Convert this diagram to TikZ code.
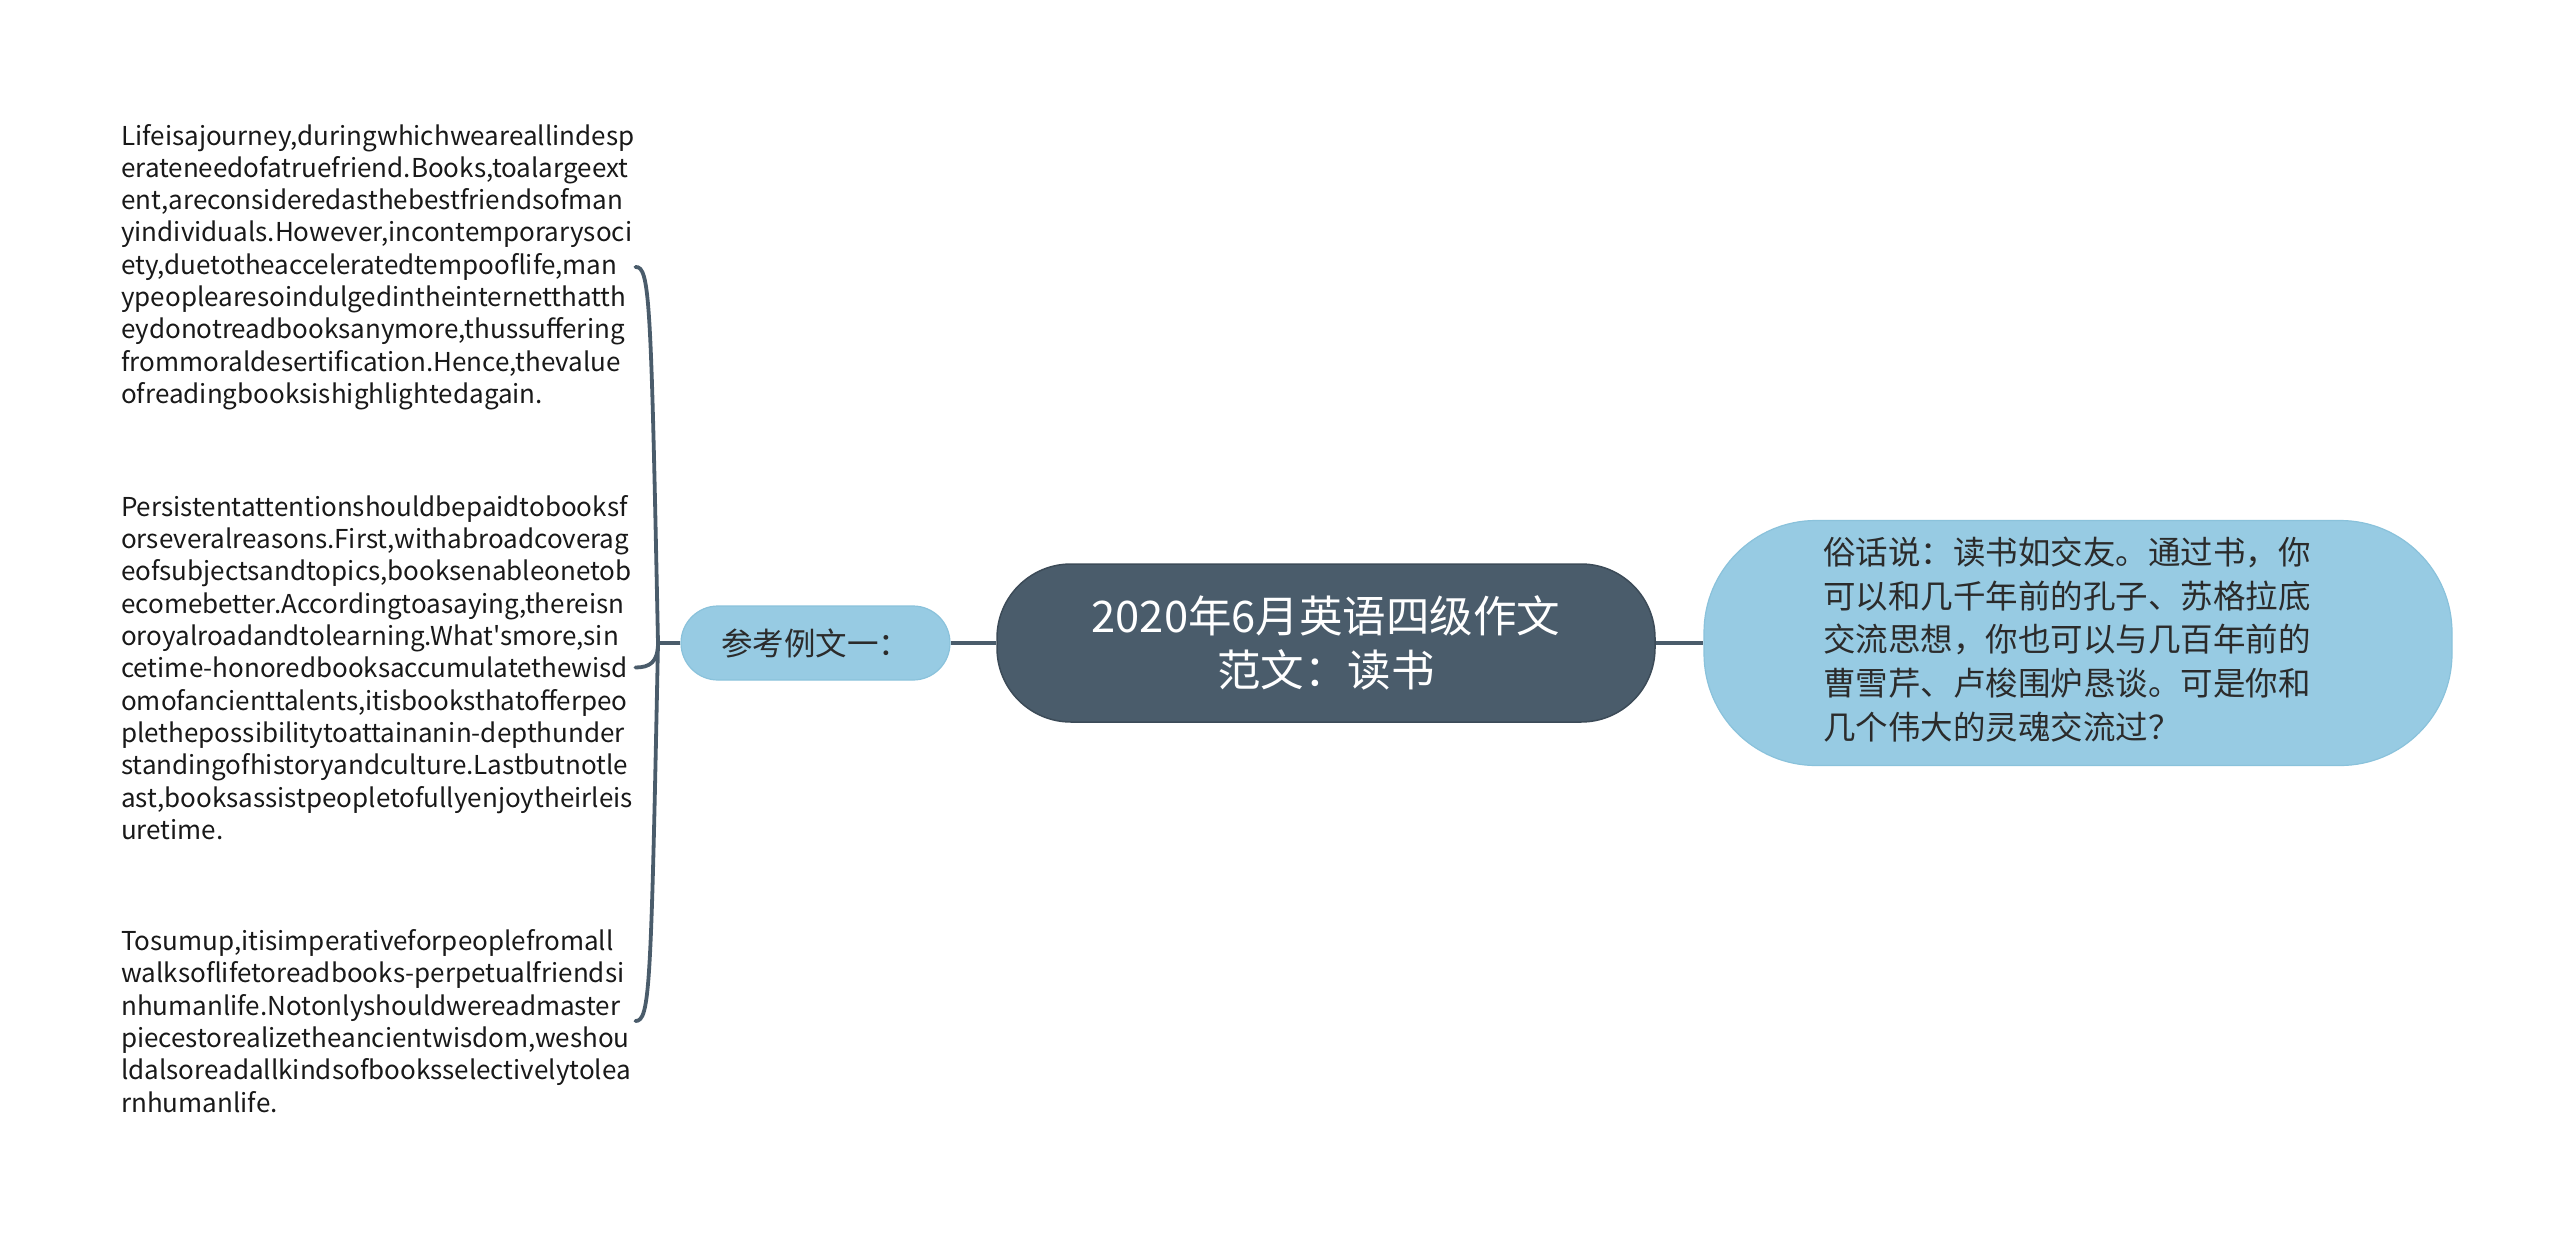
\documentclass[tikz,border=0pt]{standalone}
\usepackage{fontspec}
\newfontfamily\cjk{Noto Sans CJK SC}
\hyphenpenalty=10000
\exhyphenpenalty=10000
\definecolor{slate}{HTML}{4A5C6B}
\definecolor{slateborder}{HTML}{3C4B58}
\definecolor{skyfill}{HTML}{97CBE3}
\definecolor{skyborder}{HTML}{8AC2DB}
\definecolor{darktext}{HTML}{2B2B2B}
\begin{document}
\begin{tikzpicture}[x=1pt,y=-1pt,
  para/.style={anchor=west, inner sep=0pt, text width=514pt, align=left,
    font=\cjk\fontsize{26}{32.3}\selectfont, text=black!90},
  rootbox/.style={draw=slateborder, line width=1.5pt, fill=slate, rounded corners=74pt,
    minimum width=658pt, minimum height=158pt, inner sep=0pt, align=center,
    font=\cjk\fontsize{43.5}{54}\selectfont, text=white},
  subbox/.style={draw=skyborder, line width=1.2pt, fill=skyfill, inner sep=0pt,
    text=darktext},
  link/.style={draw=slate, line width=3.8pt}
]
\useasboundingbox (0,0) rectangle (2560,1237);

\node[para] (t1) at (121,267) {Lifeisajourney,duringwhichweareallindesp\\erateneedofatruefriend.Books,toalargeext\\ent,areconsideredasthebestfriendsofman\\yindividuals.However,incontemporarysoci\\ety,duetotheacceleratedtempooflife,man\\ypeoplearesoindulgedintheinternetthatth\\eydonotreadbooksanymore,thussuffering\\frommoraldesertification.Hence,thevalue\\ofreadingbooksishighlightedagain.};

\node[para] (t2) at (121,667.5) {Persistentattentionshouldbepaidtobooksf\\orseveralreasons.First,withabroadcoverag\\eofsubjectsandtopics,booksenableonetob\\ecomebetter.Accordingtoasaying,thereisn\\oroyalroadandtolearning.What'smore,sin\\cetime-honoredbooksaccumulatethewisd\\omofancienttalents,itisbooksthatofferpeo\\plethepossibilitytoattainanin-depthunder\\standingofhistoryandculture.Lastbutnotle\\ast,booksassistpeopletofullyenjoytheirleis\\uretime.};

\node[para] (t3) at (121,1021) {Tosumup,itisimperativeforpeoplefromall\\walksoflifetoreadbooks-perpetualfriendsi\\nhumanlife.Notonlyshouldwereadmaster\\piecestorealizetheancientwisdom,weshou\\ldalsoreadallkindsofbooksselectivelytolea\\rnhumanlife.};

\node[subbox, rounded corners=37pt, minimum width=269pt, minimum height=74pt,
  font=\cjk\fontsize{31.5}{36}\selectfont] (l) at (815.5,643) {参考例文一：};

\node[rootbox] (r) at (1326,643) {2020年6月英语四级作文\\范文：读书};

\node[subbox, rounded corners=112pt, minimum width=748pt, minimum height=245pt,
  font=\cjk\fontsize{32.5}{43.7}\selectfont] (s) at (2078,643)
  {\begin{tabular}{@{}l@{\hspace{22pt}}}俗话说：读书如交友。通过书，你\\可以和几千年前的孔子、苏格拉底\\交流思想，你也可以与几百年前的\\曹雪芹、卢梭围炉恳谈。可是你和\\几个伟大的灵魂交流过？\end{tabular}};

\coordinate (j) at (658,643);
\draw[link] (l.west) -- (j);
\draw[link] (r.west) -- (l.east);
\draw[link] (r.east) -- (s.west);
\draw[link, line cap=round] (j) .. controls (651,300) and (650,266) .. (t1.east);
\draw[link, line cap=round] (j) .. controls (658,662) and (650,667.5) .. (t2.east);
\draw[link, line cap=round] (j) .. controls (651,990) and (650,1021) .. (t3.east);
\end{tikzpicture}
\end{document}
